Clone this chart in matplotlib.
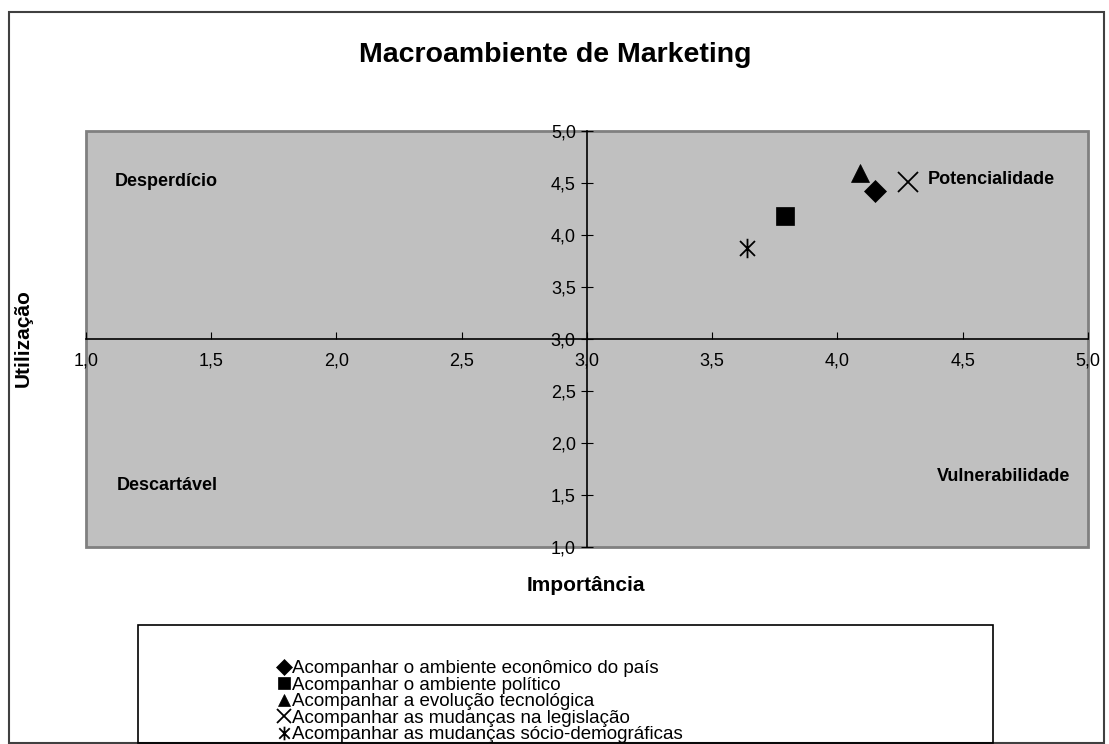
import matplotlib
matplotlib.use('Agg')
import matplotlib.pyplot as plt
from matplotlib.path import Path
from matplotlib.patches import Rectangle
from matplotlib.ticker import FuncFormatter, MultipleLocator

plt.rcParams['font.family'] = ['Liberation Sans', 'DejaVu Sans']

# Data
labels = ['Acompanhar o ambiente econômico do país',
          'Acompanhar o ambiente político',
          'Acompanhar a evolução tecnológica',
          'Acompanhar as mudanças na legislação',
          'Acompanhar as mudanças sócio-demográficas']
importancia = [4.15, 3.79, 4.09, 4.28, 3.64]
utilizacao = [4.42, 4.18, 4.60, 4.51, 3.87]

# asterisk marker (x with a vertical bar), like Excel's
star = Path([(-1, -1), (1, 1), (-1, 1), (1, -1), (0, -1.3), (0, 1.3)],
            [Path.MOVETO, Path.LINETO, Path.MOVETO, Path.LINETO, Path.MOVETO, Path.LINETO])
markers = ['D', 's', '^', 'x', star]
sizes = [11, 13, 13, 14, 14]

fig = plt.figure(figsize=(11.09, 7.44), dpi=100)
ax = fig.add_axes([0.0775, 0.265, 0.9035, 0.559])
ax.set_facecolor('#C0C0C0')

handles = []
for x, y, m, s, lab in zip(importancia, utilizacao, markers, sizes, labels):
    h, = ax.plot([x], [y], linestyle='none', marker=m, markersize=s, color='black',
                 markeredgewidth=1.3 if m in ('x', star) else 0.5, label=lab)
    handles.append(h)

ax.set_xlim(1, 5)
ax.set_ylim(1, 5)

# axes cross at (3, 3); plot area border drawn underneath the tick labels
for side in ['left', 'bottom']:
    ax.spines[side].set_position(('data', 3))
    ax.spines[side].set_linewidth(1.2)
for side in ['top', 'right']:
    ax.spines[side].set_visible(False)
ax.add_patch(Rectangle((0, 0), 1, 1, transform=ax.transAxes, fill=False,
                       edgecolor='#808080', linewidth=2, zorder=0.5, clip_on=False))

ax.xaxis.set_major_locator(MultipleLocator(0.5))
ax.yaxis.set_major_locator(MultipleLocator(0.5))
fmt = FuncFormatter(lambda v, p: f'{v:.1f}'.replace('.', ','))
ax.xaxis.set_major_formatter(fmt)
ax.yaxis.set_major_formatter(fmt)
ax.tick_params(axis='x', direction='in', length=5, pad=10, labelsize=13)
ax.tick_params(axis='y', direction='inout', length=8, pad=4, labelsize=13)

# quadrant names
qkw = dict(fontsize=13, fontweight='bold', va='center')
ax.text(1.116, 4.51, 'Desperdício', **qkw)
ax.text(4.36, 4.53, 'Potencialidade', **qkw)
ax.text(1.124, 1.59, 'Descartável', **qkw)
ax.text(4.93, 1.68, 'Vulnerabilidade', ha='right', **qkw)

fig.text(0.501, 0.926, 'Macroambiente de Marketing', ha='center', va='center',
         fontsize=20.5, fontweight='bold')
fig.text(0.528, 0.213, 'Importância', ha='center', va='center',
         fontsize=15, fontweight='bold')
fig.text(0.021, 0.546, 'Utilização', ha='center', va='center', rotation=90,
         fontsize=15, fontweight='bold')

# outer frame and legend box
fig.patches.append(Rectangle((0.008, 0.001), 0.9875, 0.983, transform=fig.transFigure,
                             fill=False, edgecolor='#404040', linewidth=1.5))
fig.patches.append(Rectangle((0.1244, 0.0013), 0.771, 0.1586, transform=fig.transFigure,
                             fill=False, edgecolor='black', linewidth=1.2))

leg = fig.legend(handles=handles, loc='upper left', bbox_to_anchor=(0.2417, 0.1255),
                 frameon=False, borderpad=0, labelspacing=-0.03, handletextpad=0.1,
                 handlelength=0.7, fontsize=13.5, markerscale=0.7)

fig.savefig('out.png', dpi=100)
